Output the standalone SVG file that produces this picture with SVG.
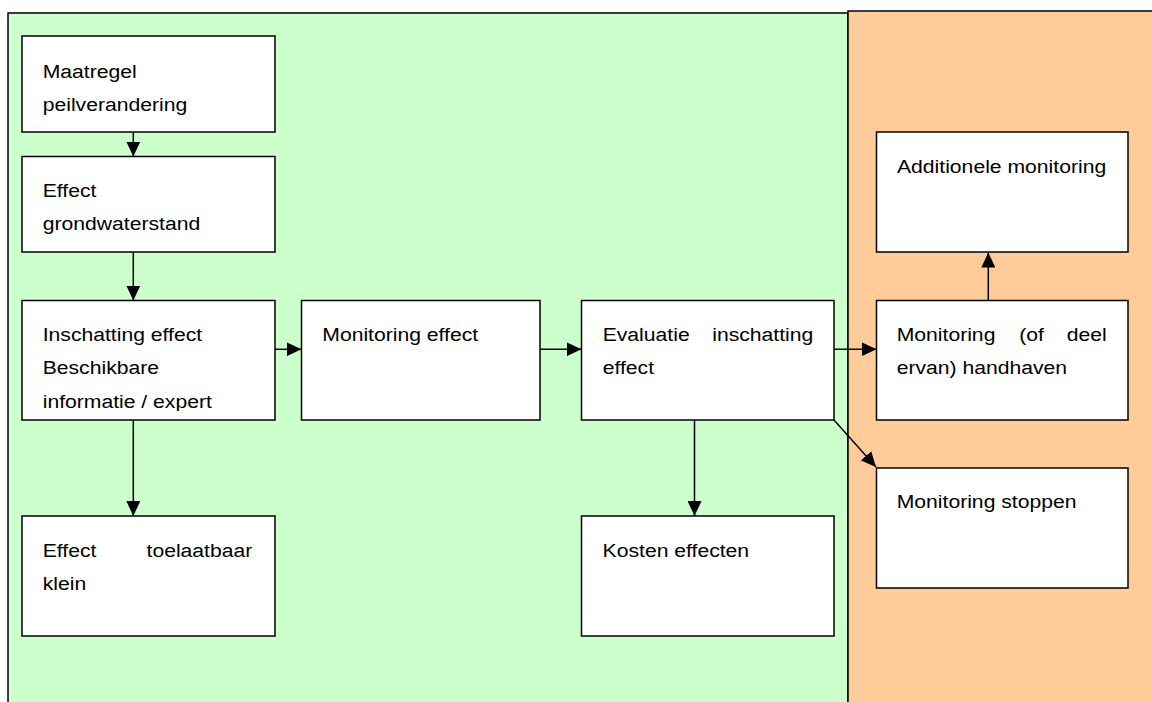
<svg xmlns="http://www.w3.org/2000/svg" width="1152" height="702" viewBox="0 0 1152 702">
<style>
.panel{stroke:#000;stroke-width:1.5}
.box{fill:#fff;stroke:#000;stroke-width:1.5}
.t{font-family:"Liberation Sans",Arial,sans-serif;font-size:18px;fill:#000}
.e{text-anchor:end}
.c{stroke:#000;stroke-width:1.5;fill:none;marker-end:url(#ah)}
</style>
<defs>
<marker id="ah" markerUnits="userSpaceOnUse" markerWidth="15" markerHeight="14" refX="15" refY="7" orient="auto">
<path d="M0,0 L15,7 L0,14 z" fill="#000"/>
</marker>
<clipPath id="clip3"><rect x="22" y="300" width="253" height="111"/></clipPath>
</defs>
<g id="panels">
<rect class="panel" x="8" y="13" width="840" height="720" fill="#CCFFCC"/>
<rect class="panel" x="848" y="11" width="320" height="720" fill="#FFCC99"/>
</g>
<g id="connectors">
<line class="c" x1="133.3" y1="132" x2="133.3" y2="156.5"/>
<line class="c" x1="133.3" y1="252" x2="133.3" y2="300.5"/>
<line class="c" x1="275" y1="349.3" x2="301.5" y2="349.3"/>
<line class="c" x1="540" y1="349.3" x2="581.5" y2="349.3"/>
<line class="c" x1="834" y1="349.3" x2="876.5" y2="349.3"/>
<line class="c" x1="988.3" y1="300.5" x2="988.3" y2="252.5"/>
<line class="c" x1="834" y1="420" x2="876" y2="467"/>
<line class="c" x1="133.3" y1="420" x2="133.3" y2="516"/>
<line class="c" x1="694.5" y1="420" x2="694.5" y2="516"/>
</g>
<g id="n1">
<rect class="box" x="22" y="36" width="253" height="96"/>
<text class="t" transform="matrix(1.175 0 0 1 42.7 78)">Maatregel</text>
<text class="t" transform="matrix(1.175 0 0 1 42.7 111.3)">peilverandering</text>
</g>
<g id="n2">
<rect class="box" x="22" y="156.5" width="253" height="95.5"/>
<text class="t" transform="matrix(1.175 0 0 1 42.7 197)">Effect</text>
<text class="t" transform="matrix(1.175 0 0 1 42.7 230.3)">grondwaterstand</text>
</g>
<g id="n3">
<rect class="box" x="22" y="300.5" width="253" height="119.5"/>
<g clip-path="url(#clip3)">
<text class="t" transform="matrix(1.175 0 0 1 42.7 341)">Inschatting effect</text>
<text class="t" transform="matrix(1.175 0 0 1 42.7 374.3)">Beschikbare</text>
<text class="t" transform="matrix(1.175 0 0 1 42.7 407.7)">informatie / expert</text>
</g>
</g>
<g id="n4">
<rect class="box" x="301.5" y="300.5" width="238.5" height="119.5"/>
<text class="t" transform="matrix(1.175 0 0 1 322.3 341)">Monitoring effect</text>
</g>
<g id="n5">
<rect class="box" x="581.5" y="300.5" width="252.5" height="119.5"/>
<text class="t" transform="matrix(1.175 0 0 1 602.7 341)">Evaluatie</text>
<text class="t e" transform="matrix(1.175 0 0 1 813.3 341)">inschatting</text>
<text class="t" transform="matrix(1.175 0 0 1 602.7 374.3)">effect</text>
</g>
<g id="n6">
<rect class="box" x="876.5" y="300.5" width="251.5" height="119.5"/>
<text class="t" transform="matrix(1.175 0 0 1 896.7 341)">Monitoring</text>
<text class="t" transform="matrix(1.175 0 0 1 1019.3 341)">(of</text>
<text class="t e" transform="matrix(1.175 0 0 1 1106.7 341)">deel</text>
<text class="t" transform="matrix(1.175 0 0 1 896.7 374.3)">ervan) handhaven</text>
</g>
<g id="n7">
<rect class="box" x="876.5" y="132" width="251.5" height="120"/>
<text class="t" transform="matrix(1.175 0 0 1 897 173.3)">Additionele monitoring</text>
</g>
<g id="n8">
<rect class="box" x="876.5" y="468" width="251.5" height="120"/>
<text class="t" transform="matrix(1.175 0 0 1 896.7 508.3)">Monitoring stoppen</text>
</g>
<g id="n9">
<rect class="box" x="22" y="516" width="253" height="120"/>
<text class="t" transform="matrix(1.175 0 0 1 42.7 556.7)">Effect</text>
<text class="t e" transform="matrix(1.175 0 0 1 252.3 556.7)">toelaatbaar</text>
<text class="t" transform="matrix(1.175 0 0 1 42.7 590)">klein</text>
</g>
<g id="n10">
<rect class="box" x="581.5" y="516" width="252.5" height="120"/>
<text class="t" transform="matrix(1.175 0 0 1 602.6 556.7)">Kosten effecten</text>
</g>
</svg>
